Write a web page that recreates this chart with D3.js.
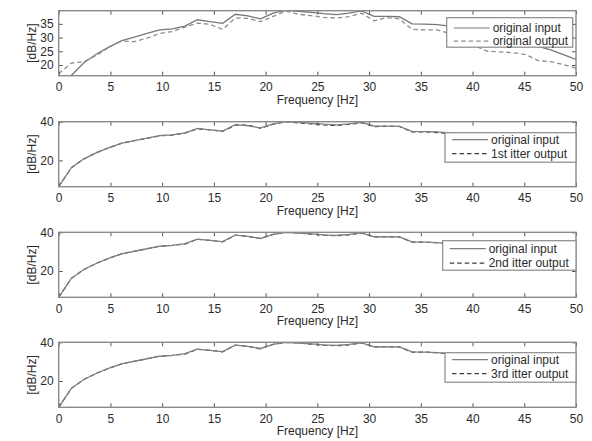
<!DOCTYPE html>
<html><head><meta charset="utf-8">
<script src="https://cdn.jsdelivr.net/npm/d3@7"></script>
<style>
html,body{margin:0;padding:0;background:#fff;}
svg text{font-family:"Liberation Sans",Arial,sans-serif;fill:#2b2b2b;}
</style></head>
<body>
<svg id="chart" width="592" height="441"></svg>
<script>
// ---- data ----
const freq = [0, 1.22, 2.44, 3.66, 4.88, 6.10, 7.32, 8.54, 9.76, 10.98, 12.20, 13.41, 14.63, 15.85, 17.07, 18.29, 19.51, 20.73, 21.95, 23.17, 24.39, 25.61, 26.83, 28.05, 29.27, 30.49, 31.71, 32.93, 34.15, 35.37, 36.59, 37.80, 39.02, 40.24, 41.46, 42.68, 43.90, 45.12, 46.34, 47.56, 48.78, 50.00];
const originalInput = [6.4, 16.2, 20.8, 24.0, 26.6, 28.9, 30.2, 31.5, 32.8, 33.2, 34.2, 36.5, 35.8, 35.2, 38.5, 37.9, 36.8, 38.9, 40.0, 39.6, 39.2, 38.7, 38.4, 38.9, 39.7, 37.7, 37.7, 37.6, 35.0, 34.9, 34.7, 34.2, 32.5, 31.0, 29.5, 28.5, 28.0, 27.5, 26.8, 25.5, 23.8, 22.0];
const originalOutput = [16.8, 20.7, 21.2, 23.5, 26.5, 28.8, 28.5, 29.8, 31.5, 32.2, 33.8, 35.3, 34.8, 33.0, 37.1, 37.0, 35.8, 37.7, 39.7, 38.5, 38.0, 37.4, 37.1, 37.6, 38.9, 36.1, 37.3, 36.8, 33.0, 32.8, 32.8, 31.5, 29.5, 27.0, 25.0, 24.8, 24.5, 23.8, 21.6, 21.2, 20.2, 18.8];
const iter1Output = [6.4, 16.2, 20.8, 24.0, 26.6, 28.9, 30.2, 31.4, 32.7, 33.1, 34.1, 36.3, 35.8, 35.0, 38.2, 38.3, 36.6, 38.7, 39.9, 39.4, 38.8, 38.3, 38.0, 38.6, 39.4, 37.5, 37.6, 37.6, 34.7, 34.8, 34.4, 33.8, 32.1, 30.6, 29.1, 28.1, 27.6, 27.0, 26.3, 24.8, 23.2, 21.4];
const iter2Output = [6.4, 16.2, 20.8, 24.0, 26.6, 28.9, 30.2, 31.5, 32.8, 33.2, 33.9, 36.4, 35.8, 35.1, 38.5, 37.9, 36.8, 38.9, 40.0, 39.6, 39.1, 38.5, 38.2, 38.7, 39.7, 37.6, 37.7, 37.6, 34.9, 34.9, 34.6, 34.0, 32.3, 30.8, 29.3, 28.3, 27.8, 27.3, 26.6, 25.2, 23.6, 21.6];
const iter3Output = [6.4, 16.2, 20.8, 24.0, 26.6, 28.9, 30.2, 31.5, 32.8, 33.2, 33.9, 36.4, 35.8, 35.1, 38.5, 37.9, 36.6, 38.9, 40.0, 39.6, 39.1, 38.5, 38.2, 38.7, 39.7, 37.6, 37.7, 37.6, 34.9, 34.9, 34.6, 34.0, 32.4, 30.9, 29.4, 28.4, 27.9, 27.4, 26.7, 25.3, 23.7, 21.7];
const outputLabels = ["original output", "1st itter output", "2nd itter output", "3rd itter output"];
const inputLabel = "original input";
const xTicks = [0, 5, 10, 15, 20, 25, 30, 35, 40, 45, 50];
const yTicksTop = [20, 25, 30, 35];
const yTicksOther = [20, 40];
const yDomainTop = [16.1, 39.8];
const yDomainOther = [6.4, 40];
const xLabel = "Frequency [Hz]";
const yLabel = "[dB/Hz]";

// ---- layout ----
const svg = d3.select("#chart");
const left = 58.7, right = 576;
const panelTops = [10.7, 121.7, 232.3, 342.3];
const panelH = 65;
const legendTops = [17.7, 132.7, 240.7, 352.7];
const legendRights = [572.7, 576, 576, 576];
const legendWidths = [126, 131, 133.3, 131];
const rowOffsets = [[10.3, 23.5], [7, 21], [8, 22.5], [7, 21]];
const outputs = [originalOutput, iter1Output, iter2Output, iter3Output];
const axisColor = "#8a8a8a";
const fontSize = "12px";

const x = d3.scaleLinear().domain([0, 50]).range([left, right]);

outputs.forEach((out, i) => {
  const top = panelTops[i], bottom = top + panelH;
  const y = d3.scaleLinear().domain(i === 0 ? yDomainTop : yDomainOther).range([bottom, top]);
  const g = svg.append("g");
  const clipId = "clip" + i;
  svg.append("clipPath").attr("id", clipId).append("rect")
    .attr("x", left).attr("y", top).attr("width", right - left).attr("height", panelH);

  const line = d3.line().x((d, k) => x(freq[k])).y(d => y(d));
  const lines = g.append("g").attr("clip-path", `url(#${clipId})`);
  if (i === 0) {
    lines.append("path").datum(originalInput).attr("d", line)
      .attr("fill", "none").attr("stroke", "#777").attr("stroke-width", 1.3);
    lines.append("path").datum(out).attr("d", line)
      .attr("fill", "none").attr("stroke", "#8e8e8e").attr("stroke-width", 1.3)
      .attr("stroke-dasharray", "4.5,3");
  } else {
    lines.append("path").datum(out).attr("d", line)
      .attr("fill", "none").attr("stroke", "#3c3c3c").attr("stroke-width", 1.2)
      .attr("stroke-dasharray", "4.5,3");
    lines.append("path").datum(originalInput).attr("d", line)
      .attr("fill", "none").attr("stroke", "#808080").attr("stroke-width", 1.3);
  }

  // axes
  const ticksY = i === 0 ? yTicksTop : yTicksOther;
  const ax = [
    g.append("g").attr("transform", `translate(0,${bottom})`).call(d3.axisBottom(x).tickValues(xTicks).tickSize(-4).tickPadding(7)),
    g.append("g").attr("transform", `translate(0,${top})`).call(d3.axisTop(x).tickValues(xTicks).tickSize(-4).tickFormat("")),
    g.append("g").attr("transform", `translate(${left},0)`).call(d3.axisLeft(y).tickValues(ticksY).tickSize(-4).tickPadding(5)),
    g.append("g").attr("transform", `translate(${right},0)`).call(d3.axisRight(y).tickValues(ticksY).tickSize(-4).tickFormat(""))
  ];
  ax.forEach(a => {
    a.select(".domain").remove();
    a.selectAll(".tick line").attr("stroke", "#555").attr("stroke-width", 1);
    a.selectAll("text").style("font-size", fontSize).attr("fill", "#2b2b2b");
  });
  g.append("rect").attr("x", left).attr("y", top).attr("width", right - left).attr("height", panelH)
    .attr("fill", "none").attr("stroke", axisColor).attr("stroke-width", 1.4);

  g.append("text").attr("x", (left + right) / 2).attr("y", bottom + 28)
    .attr("text-anchor", "middle").style("font-size", fontSize).text(xLabel);
  g.append("text").attr("transform", `translate(32,${(top + bottom) / 2}) rotate(-90)`)
    .attr("text-anchor", "middle").attr("dominant-baseline", "central").style("font-size", fontSize).text(yLabel);

  // legend
  const lw = legendWidths[i], lx = legendRights[i] - lw, ly = legendTops[i], lh = 29.5;
  const lg = g.append("g");
  lg.append("rect").attr("x", lx).attr("y", ly).attr("width", lw).attr("height", lh)
    .attr("fill", "#fff").attr("stroke", axisColor).attr("stroke-width", 1.2);
  const rows = [
    {label: inputLabel, dash: null, color: i === 0 ? "#777" : "#808080"},
    {label: outputLabels[i], dash: "4.5,3", color: i === 0 ? "#8e8e8e" : "#3c3c3c"}
  ];
  rows.forEach((r, k) => {
    const ry = ly + rowOffsets[i][k];
    lg.append("line").attr("x1", lx + 7).attr("x2", lx + 43).attr("y1", ry).attr("y2", ry)
      .attr("stroke", r.color).attr("stroke-width", 1.2).attr("stroke-dasharray", r.dash);
    lg.append("text").attr("x", lx + 46).attr("y", ry).attr("dominant-baseline", "central")
      .style("font-size", fontSize).text(r.label);
  });
});
</script>
</body></html>
